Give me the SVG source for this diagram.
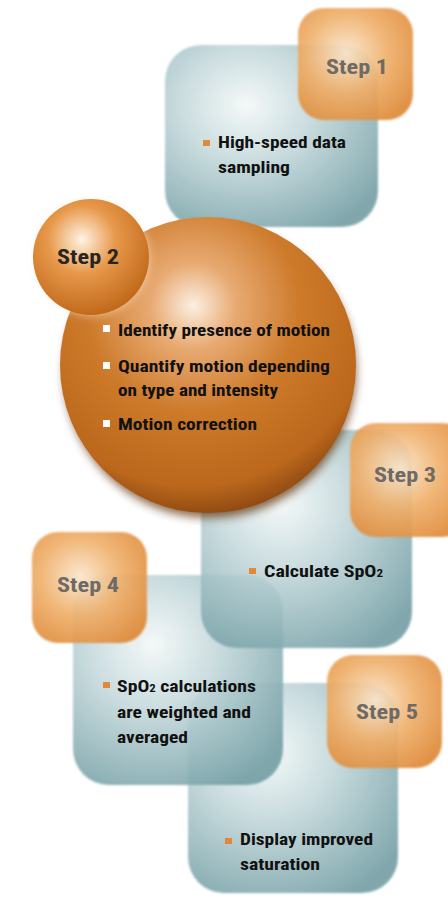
<svg xmlns="http://www.w3.org/2000/svg" width="448" height="901" viewBox="0 0 448 901">
<style>
.lbl{font-family:"Liberation Sans Narrow","Roboto Condensed","DejaVu Sans Condensed","Liberation Sans",sans-serif;font-weight:bold;font-size:20px;text-anchor:middle;fill:#6e6a66}
.txt{font-family:"Liberation Sans Narrow","Roboto Condensed","DejaVu Sans Condensed","Liberation Sans",sans-serif;font-weight:bold;font-size:17px;fill:#111}
.sub{font-size:11px}
.teal{fill:url(#gTeal);opacity:0.88;filter:url(#soft)}
.orng{fill:url(#gOr);opacity:0.92;filter:url(#soft)}
.bul{fill:#e0893a}
.bulw{fill:#ffffff}
</style>
<defs>
<radialGradient id="gTeal" cx="0.38" cy="0.33" r="0.78">
<stop offset="0" stop-color="#f4f8f8"/>
<stop offset="0.4" stop-color="#c3d8db"/>
<stop offset="1" stop-color="#6f9ca2"/>
</radialGradient>
<radialGradient id="gOr" cx="0.42" cy="0.4" r="0.7">
<stop offset="0" stop-color="#fbe6cc"/>
<stop offset="0.5" stop-color="#f0b06c"/>
<stop offset="1" stop-color="#de8a38"/>
</radialGradient>
<radialGradient id="gSm" cx="0.42" cy="0.35" r="0.65">
<stop offset="0" stop-color="#fff3e4"/>
<stop offset="0.45" stop-color="#e7984a"/>
<stop offset="1" stop-color="#c26a1c"/>
</radialGradient>
<radialGradient id="gBig" cx="0.45" cy="0.3" r="0.72">
<stop offset="0" stop-color="#fcefe2"/>
<stop offset="0.2" stop-color="#e8aa72"/>
<stop offset="0.5" stop-color="#cd7a2a"/>
<stop offset="0.85" stop-color="#bb671c"/>
<stop offset="1" stop-color="#8a4610"/>
</radialGradient>
<filter id="soft" x="-5%" y="-5%" width="110%" height="110%"><feGaussianBlur stdDeviation="1.2"/></filter>
<filter id="shadow" x="-20%" y="-20%" width="140%" height="140%"><feGaussianBlur stdDeviation="5"/></filter>
</defs>
<rect width="448" height="901" fill="#ffffff"/>

<g id="step1">
<rect class="teal" x="165" y="45" width="213" height="182" rx="36"/>
<rect class="orng" x="298" y="8" width="115" height="112" rx="26"/>
<text class="lbl" x="357" y="74" textLength="62" lengthAdjust="spacingAndGlyphs">Step 1</text>
<rect class="bul" x="203" y="140" width="7" height="6"/>
<text class="txt" x="218" y="148" textLength="128" lengthAdjust="spacingAndGlyphs">High-speed data</text>
<text class="txt" x="218" y="173" textLength="72" lengthAdjust="spacingAndGlyphs">sampling</text>
</g>

<g id="step5">
<rect class="teal" x="188" y="683" width="210" height="210" rx="36"/>
<rect class="orng" x="327" y="655" width="115" height="113" rx="26"/>
<text class="lbl" x="387" y="719" textLength="62" lengthAdjust="spacingAndGlyphs">Step 5</text>
<rect class="bul" x="225" y="838" width="7" height="6"/>
<text class="txt" x="240" y="845" textLength="133" lengthAdjust="spacingAndGlyphs">Display improved</text>
<text class="txt" x="240" y="870" textLength="80" lengthAdjust="spacingAndGlyphs">saturation</text>
</g>

<g id="step4">
<rect class="teal" x="73" y="575" width="210" height="210" rx="36"/>
<rect class="orng" x="32" y="532" width="115" height="111" rx="26"/>
<text class="lbl" x="88" y="592" textLength="62" lengthAdjust="spacingAndGlyphs">Step 4</text>
<rect class="bul" x="103" y="682" width="7" height="6"/>
<text class="txt" x="117" y="692" textLength="139" lengthAdjust="spacingAndGlyphs">SpO<tspan class="sub">2</tspan> calculations</text>
<text class="txt" x="117" y="718" textLength="134" lengthAdjust="spacingAndGlyphs">are weighted and</text>
<text class="txt" x="117" y="743" textLength="71" lengthAdjust="spacingAndGlyphs">averaged</text>
</g>

<g id="step3">
<rect class="teal" x="201" y="430" width="211" height="218" rx="36"/>
<rect class="orng" x="350" y="423" width="118" height="114" rx="26"/>
<text class="lbl" x="405" y="482" textLength="62" lengthAdjust="spacingAndGlyphs">Step 3</text>
<rect class="bul" x="249" y="568" width="7" height="6"/>
<text class="txt" x="264" y="577" textLength="119" lengthAdjust="spacingAndGlyphs">Calculate SpO<tspan class="sub">2</tspan></text>
</g>

<g id="step2">
<circle cx="210" cy="372" r="146" fill="#5a2a05" opacity="0.7" filter="url(#shadow)"/>
<circle cx="208" cy="365" r="148" fill="url(#gBig)"/>
<circle cx="91" cy="257" r="58" fill="#fff2e2" opacity="0.6" filter="url(#shadow)"/>
<circle cx="91" cy="257" r="58" fill="url(#gSm)"/>
<text class="lbl" x="88" y="264" textLength="62" lengthAdjust="spacingAndGlyphs" style="fill:#2a2420">Step 2</text>
<rect class="bulw" x="103" y="325" width="7" height="7"/>
<text class="txt" x="118" y="336" textLength="212" lengthAdjust="spacingAndGlyphs">Identify presence of motion</text>
<rect class="bulw" x="103" y="362" width="7" height="7"/>
<text class="txt" x="118" y="372" textLength="212" lengthAdjust="spacingAndGlyphs">Quantify motion depending</text>
<text class="txt" x="118" y="396" textLength="160" lengthAdjust="spacingAndGlyphs">on type and intensity</text>
<rect class="bulw" x="103" y="420" width="7" height="7"/>
<text class="txt" x="118" y="430" textLength="139" lengthAdjust="spacingAndGlyphs">Motion correction</text>
</g>
</svg>
